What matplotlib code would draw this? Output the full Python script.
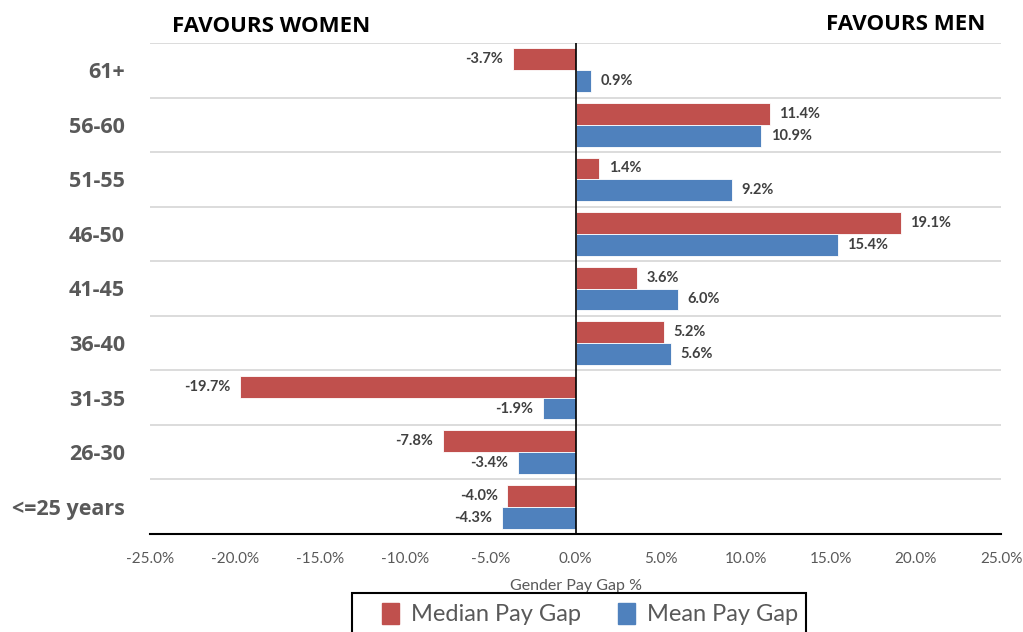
import matplotlib
matplotlib.use("Agg")
import matplotlib.pyplot as plt
import numpy as np
from matplotlib.patches import Patch, Rectangle

age_bands = ["<=25 years", "26-30", "31-35", "36-40", "41-45", "46-50", "51-55", "56-60", "61+"]
median_gap = [-4.0, -7.8, -19.7, 5.2, 3.6, 19.1, 1.4, 11.4, -3.7]
mean_gap = [-4.3, -3.4, -1.9, 5.6, 6.0, 15.4, 9.2, 10.9, 0.9]
x_ticks = [-25, -20, -15, -10, -5, 0, 5, 10, 15, 20, 25]

RED = "#C0504D"
BLUE = "#4F81BD"
GREY_TEXT = "#595959"
BODY = ["Lato", "DejaVu Sans"]
HEAD = ["Open Sans", "DejaVu Sans"]

W, H = 1023, 632
fig = plt.figure(figsize=(W / 100, H / 100), dpi=100)
ax = fig.add_axes([150 / W, 1 - 534 / H, 851 / W, 491 / H])

y = np.arange(len(age_bands))
h = 0.4
ax.barh(y + h / 2, median_gap, height=h, color=RED, edgecolor="white", linewidth=0.6, zorder=2)
ax.barh(y - h / 2, mean_gap, height=h, color=BLUE, edgecolor="white", linewidth=0.6, zorder=2)

for vals, off in ((median_gap, h / 2), (mean_gap, -h / 2)):
    for yi, v in zip(y, vals):
        ax.annotate(f"{v:.1f}%", xy=(v, yi + off), xytext=(7 if v >= 0 else -7, 0),
                    textcoords="offset points", ha="left" if v >= 0 else "right",
                    va="center", fontsize=10.5, fontweight="bold", color="#404040",
                    family=BODY)

ax.set_xlim(-25, 25)
ax.set_ylim(-0.5, len(age_bands) - 0.5)
ax.set_xticks(x_ticks)
ax.set_xticklabels([f"{t:.1f}%" for t in x_ticks], family=BODY, fontsize=11, color=GREY_TEXT)
ax.set_yticks(y)
ax.set_yticklabels(age_bands, fontsize=15.5, fontweight="bold", color=GREY_TEXT, family=HEAD)
ax.tick_params(axis="y", length=0, pad=18)
ax.tick_params(axis="x", length=0, pad=13)

# separators between age bands
for b in np.arange(-0.5, len(age_bands) + 0.5, 1.0)[1:]:
    ax.axhline(b, color="#D9D9D9", linewidth=1.3, zorder=1)
ax.axvline(0, color="black", linewidth=1.2, zorder=3)

for side in ("top", "right", "left"):
    ax.spines[side].set_visible(False)
ax.spines["bottom"].set_color("black")
ax.spines["bottom"].set_linewidth(1.5)

ax.set_xlabel("Gender Pay Gap %", family=BODY, fontsize=11.5, color=GREY_TEXT, labelpad=9)

fig.text(172 / W, 1 - 27 / H, "FAVOURS WOMEN", fontsize=16, fontweight="bold",
         family=HEAD, ha="left", va="center", color="black")
fig.text(985 / W, 1 - 25 / H, "FAVOURS MEN", fontsize=16, fontweight="bold",
         family=HEAD, ha="right", va="center", color="black")

# legend: entries plus a separate box that runs off the bottom edge
handles = [Patch(color=RED, label="Median Pay Gap"), Patch(color=BLUE, label="Mean Pay Gap")]
leg = fig.legend(handles=handles, loc="center", bbox_to_anchor=(590 / W, 1 - 614 / H),
                 ncol=2, frameon=False, prop={"family": BODY, "size": 17},
                 handlelength=0.7, handleheight=1.0, columnspacing=1.6,
                 handletextpad=0.5, borderpad=0, borderaxespad=0)
for t in leg.get_texts():
    t.set_color(GREY_TEXT)
fig.add_artist(Rectangle((352 / W, -0.05), 454 / W, 0.05 + (H - 593) / H,
                         transform=fig.transFigure, facecolor="none",
                         edgecolor="black", linewidth=1.5))

fig.savefig("out.png", dpi=100)
